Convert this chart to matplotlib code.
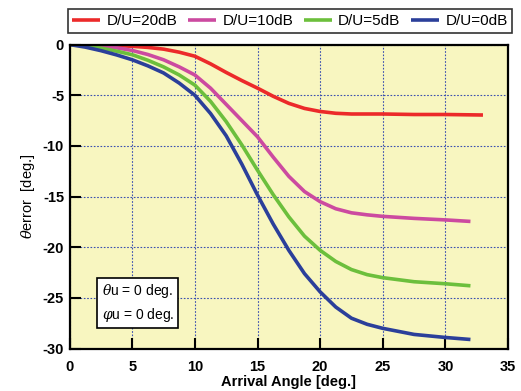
import matplotlib
matplotlib.use("Agg")
import matplotlib.pyplot as plt

plt.rcParams['font.family'] = ['Liberation Sans', 'DejaVu Sans']
plt.rcParams['mathtext.fontset'] = 'dejavuserif'

# Data
x_red = [0, 1.25, 2.5, 3.75, 5, 6.25, 7.5, 8.75, 10, 11.25, 12.5, 13.75, 15, 16.25, 17.5, 18.75, 20, 21.25, 22.5, 25, 27.5, 30, 33]
y_red = [0, -0.01, -0.05, -0.1, -0.17, -0.28, -0.45, -0.75, -1.15, -1.9, -2.75, -3.55, -4.3, -5.1, -5.8, -6.3, -6.6, -6.78, -6.85, -6.85, -6.9, -6.9, -6.95]

x_mag = [0, 1.25, 2.5, 3.75, 5, 6.25, 7.5, 8.75, 10, 11.25, 12.5, 13.75, 15, 16.25, 17.5, 18.75, 20, 21.25, 22.5, 23.75, 25, 27.5, 30, 32]
y_mag = [0, -0.04, -0.15, -0.32, -0.58, -0.98, -1.5, -2.2, -3.0, -4.3, -5.9, -7.5, -9.1, -11.1, -13.0, -14.5, -15.5, -16.2, -16.6, -16.8, -16.95, -17.15, -17.3, -17.45]

x_grn = [0, 1.25, 2.5, 3.75, 5, 6.25, 7.5, 8.75, 10, 11.25, 12.5, 13.75, 15, 16.25, 17.5, 18.75, 20, 21.25, 22.5, 23.75, 25, 27.5, 30, 32]
y_grn = [0, -0.12, -0.35, -0.65, -1.0, -1.55, -2.2, -3.0, -4.0, -5.6, -7.6, -9.9, -12.4, -14.8, -17.0, -18.9, -20.3, -21.4, -22.2, -22.7, -23.0, -23.4, -23.6, -23.8]

x_blu = [0, 1.25, 2.5, 3.75, 5, 6.25, 7.5, 8.75, 10, 11.25, 12.5, 13.75, 15, 16.25, 17.5, 18.75, 20, 21.25, 22.5, 23.75, 25, 27.5, 30, 32]
y_blu = [0, -0.25, -0.6, -1.02, -1.5, -2.1, -2.8, -3.8, -5.0, -6.8, -9.0, -11.8, -14.85, -17.7, -20.3, -22.6, -24.4, -25.9, -27.0, -27.6, -28.0, -28.6, -28.9, -29.1]

labels = ['D/U=20dB', 'D/U=10dB', 'D/U=5dB', 'D/U=0dB']
colors = ['#ec2a2a', '#cc4aa0', '#6cbf3c', '#2b3f9a']

xticks = [0, 5, 10, 15, 20, 25, 30, 35]
yticks = [0, -5, -10, -15, -20, -25, -30]

fig = plt.figure(figsize=(5.21, 3.91), dpi=100)
ax = fig.add_axes([0.1336, 0.1084, 0.8415, 0.7776])
ax.set_facecolor('#f8f6c0')

series = [(x_red, y_red), (x_mag, y_mag), (x_grn, y_grn), (x_blu, y_blu)]
handles = []
for (xs, ys), c, lab in zip(series, colors, labels):
    h, = ax.plot(xs, ys, color=c, lw=2.6, label=lab, solid_capstyle='butt',
                 solid_joinstyle='round')
    handles.append(h)

ax.set_xlim(0, 35)
ax.set_ylim(-30, 0)
ax.set_xticks(xticks)
ax.set_yticks(yticks)
ax.set_xticklabels([str(t) for t in xticks], fontweight='bold', fontsize=10.5)
ax.set_yticklabels([str(t) for t in yticks], fontweight='bold', fontsize=10.5)
ax.grid(True, color='#3a4fb0', linestyle=(0, (1.5, 1.5)), linewidth=0.8)
ax.tick_params(direction='in', length=8, width=1.5, top=False, right=False)
ax.tick_params(axis='y', pad=4)
ax.tick_params(axis='x', pad=8.5)
for s in ax.spines.values():
    s.set_linewidth(1.6)
    s.set_color('black')

ax.set_xlabel('Arrival Angle [deg.]', fontweight='bold', fontsize=10.5, labelpad=0.5)
ax.set_ylabel(r'$\mathit{\theta}$error  [deg.]', fontsize=10.5, labelpad=4)

ax.text(2.55, -25.5, '$\\mathit{\\theta}$u = 0 deg.\n$\\mathit{\\varphi}$u = 0 deg.',
        fontsize=10, va='center', ha='left', linespacing=1.4,
        bbox=dict(boxstyle='square,pad=0.3', facecolor='white', edgecolor='black', linewidth=1.2))

leg = fig.legend(handles=handles, labels=labels, ncol=4, loc='center',
                 bbox_to_anchor=(0.5566, 0.9463), fontsize=11, frameon=True,
                 fancybox=False, edgecolor='black', handlelength=1.85,
                 columnspacing=0.7, handletextpad=0.4, borderpad=0.3)
leg.get_frame().set_linewidth(1.2)

fig.savefig('out.png', dpi=100)
